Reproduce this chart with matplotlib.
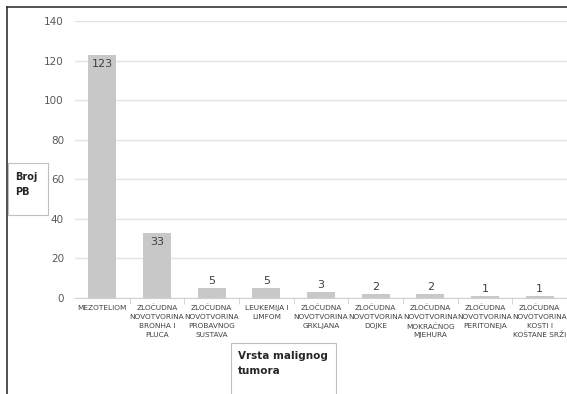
import matplotlib
matplotlib.use("Agg")
import matplotlib.pyplot as plt
from matplotlib.patches import Rectangle
from matplotlib.lines import Line2D

categories = ["MEZOTELIOM",
              "ZLOČUDNA\nNOVOTVORINA\nBRONHA I\nPLUĆA",
              "ZLOČUDNA\nNOVOTVORINA\nPROBAVNOG\nSUSTAVA",
              "LEUKEMIJA I\nLIMFOM",
              "ZLOČUDNA\nNOVOTVORINA\nGRKLJANA",
              "ZLOČUDNA\nNOVOTVORINA\nDOJKE",
              "ZLOČUDNA\nNOVOTVORINA\nMOKRAČNOG\nMJEHURA",
              "ZLOČUDNA\nNOVOTVORINA\nPERITONEJA",
              "ZLOČUDNA\nNOVOTVORINA\nKOSTI I\nKOŠTANE SRŽI"]
values = [123, 33, 5, 5, 3, 2, 2, 1, 1]
yticks = [0, 20, 40, 60, 80, 100, 120, 140]

plt.rcParams['font.family'] = ['DejaVu Sans']
W, H = 567, 394
fig = plt.figure(figsize=(W/100, H/100), dpi=100)
ax = fig.add_axes([75/W, 1-298/H, 1-75/W, (298-21)/H])

x = list(range(len(categories)))
ax.bar(x, values, width=0.51, color="#c8c8c8", zorder=2)
ax.set_ylim(0, 140)
ax.set_xlim(-0.5, -0.5 + (567-75)/55)
ax.set_yticks(yticks)
ax.set_yticklabels([str(v) for v in yticks], fontsize=7.5, color="#595959")
ax.grid(axis="y", color="#e3e3e3", linewidth=1, zorder=0)
for s in ["top", "right", "left"]:
    ax.spines[s].set_visible(False)
ax.spines["bottom"].set_color("#d0d0d0")
ax.tick_params(axis="y", length=0, pad=8)
ax.set_xticks([i + 0.5 for i in range(len(categories))], minor=True)
ax.set_xticks(x)
ax.set_xticklabels(categories, fontsize=5.3, color="#404040", linespacing=1.55)
ax.tick_params(axis="x", which="major", length=0, pad=5)
ax.tick_params(axis="x", which="minor", length=4, color="#d0d0d0")

for xi, v in zip(x, values):
    if v > 20:
        ax.text(xi, v - 2, str(v), ha="center", va="top", fontsize=8, color="#404040")
    else:
        ax.text(xi, v + 1, str(v), ha="center", va="bottom", fontsize=8, color="#404040")

# outer frame (left and top)
fig.add_artist(Line2D([7/W, 7/W], [0, 1-7/H], color="#333333", linewidth=1.2))
fig.add_artist(Line2D([7/W, 1], [1-7/H, 1-7/H], color="#333333", linewidth=1.2))

# axis title boxes
fig.add_artist(Rectangle((8/W, 1-215/H), 40/W, 52/H, fill=False, edgecolor="#bfbfbf", linewidth=0.8))
fig.text(15/W, 1-172/H, "Broj\nPB", fontsize=7, fontweight="bold", color="#262626",
         va="top", ha="left", linespacing=1.6)
fig.add_artist(Rectangle((231/W, -5/H), 105/W, (394-343+5)/H, fill=False, edgecolor="#bfbfbf", linewidth=0.8))
fig.text(238/W, 1-351/H, "Vrsta malignog\ntumora", fontsize=7.5, fontweight="bold", color="#262626",
         va="top", ha="left", linespacing=1.6)

fig.savefig("out.png", dpi=100)
